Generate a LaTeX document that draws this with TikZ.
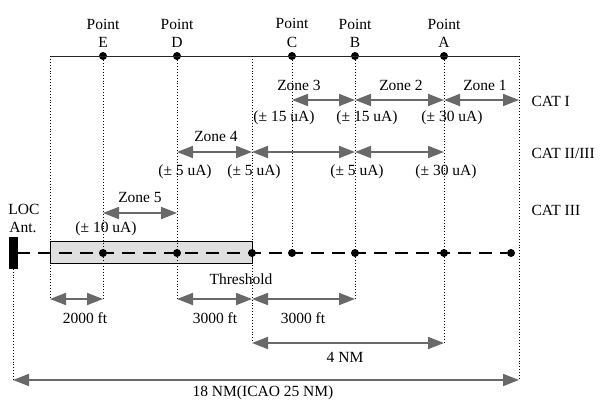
\documentclass[tikz,border=0pt]{standalone}
\usepackage{fontspec}
\setmainfont{Liberation Serif}
\usetikzlibrary{arrows.meta,positioning}
\definecolor{arrowgray}{RGB}{105,105,105}
\begin{document}
\begin{tikzpicture}[x=1pt, y=-1pt, font=\fontsize{15.5}{18.5}\selectfont,
    dot/.style={circle, fill=black, inner sep=0pt, minimum size=8pt},
    guide/.style={dotted, line width=0.9pt},
    span/.style={{Triangle[length=16pt,width=12pt]}-{Triangle[length=16pt,width=12pt]}, draw=arrowgray, fill=arrowgray, line width=1.8pt},
    ptlabel/.style={align=center, inner sep=1pt, above=3pt}]
    \useasboundingbox (0,0) rectangle (600,405);

    % Columns on the top line
    \coordinate (L) at (50,56);
    \node[dot] (E) at (103,56) {};
    \node[dot] (D) at (177,56) {};
    \coordinate (T) at (252,56);
    \node[dot] (C) at (292,56) {};
    \node[dot] (B) at (355,56) {};
    \node[dot] (A) at (444,56) {};
    \coordinate (R) at (519,56);
    \draw[line width=0.9pt, black!85] (L) -- (R);

    \node[ptlabel] at (E.north) {Point\\E};
    \node[ptlabel] at (D.north) {Point\\D};
    \node[ptlabel] at (C.north) {Point\\C};
    \node[ptlabel] at (B.north) {Point\\B};
    \node[ptlabel] at (A.north) {Point\\A};

    % Rows
    \coordinate (rowI) at (0,100);
    \coordinate (rowII) at (0,152);
    \coordinate (rowIII) at (0,213);
    \coordinate (rowft) at (0,299);
    \coordinate (rownm) at (0,343);
    \coordinate (rowall) at (0,380);

    % Runway and antenna
    \draw[fill=gray!25, line width=0.9pt] (L |- 0,241) rectangle (T |- 0,263);
    \node[draw, fill=black, inner sep=0pt, minimum width=8pt, minimum height=31pt] (ant) at (13,253) {};
    \node[dot] (E2) at (103,253) {};
    \node[dot] (D2) at (177,253) {};
    \node[dot] (T2) at (252,253) {};
    \node[dot] (C2) at (292,253) {};
    \node[dot] (B2) at (355,253) {};
    \node[dot] (A2) at (444,253) {};
    \node[dot] (end) at (511,253) {};
    \draw[line width=1.4pt, dash pattern=on 13pt off 8pt] (ant.east) -- (end);
    \node (loc) at (24,209) {LOC};
    \node (antlab) at (23,227) {Ant.};
    \node at (241,279) {Threshold};

    % Guide lines
    \draw[guide] (L) -- (L |- rowft);
    \draw[guide] (E) -- (E |- rowft);
    \draw[guide] (D) -- (D |- rowft);
    \draw[guide] (T) -- (T |- rownm);
    \draw[guide] (C) -- (C2);
    \draw[guide] (B) -- (B |- rowft);
    \draw[guide] (A) -- (A |- rownm);
    \draw[guide] (R) -- (R |- rowall);
    \draw[guide] (ant.south) -- (ant |- rowall);

    % CAT I
    \draw[span] (C |- rowI) -- (B |- rowI);
    \draw[span] (B |- rowI) -- (A |- rowI);
    \draw[span] (A |- rowI) -- (R |- rowI);
    \node at (299,85) {Zone 3};
    \node at (401,85) {Zone 2};
    \node at (485,85) {Zone 1};
    \node at (284,118) {(± 15 uA)};
    \node at (367,118) {(± 15 uA)};
    \node at (452,118) {(± 30 uA)};
    \node[anchor=west] at (528,101) {CAT I};

    % CAT II/III
    \draw[span] (D |- rowII) -- (T |- rowII);
    \draw[span] (T |- rowII) -- (B |- rowII);
    \draw[span] (B |- rowII) -- (A |- rowII);
    \node at (216,136) {Zone 4};
    \node at (185,172) {(± 5 uA)};
    \node at (254,172) {(± 5 uA)};
    \node at (357,172) {(± 5 uA)};
    \node at (446,172) {(± 30 uA)};
    \node[anchor=west] at (528,153) {CAT II/III};

    % CAT III
    \draw[span] (E |- rowIII) -- (D |- rowIII);
    \node at (140,197) {Zone 5};
    \node at (106,229) {(± 10 uA)};
    \node[anchor=west] at (528,210) {CAT III};

    % Distances
    \draw[span] (L |- rowft) -- (E |- rowft);
    \draw[span] (D |- rowft) -- (T |- rowft);
    \draw[span] (T |- rowft) -- (B |- rowft);
    \node at (85,318) {2000 ft};
    \node at (215,318) {3000 ft};
    \node at (303,318) {3000 ft};
    \draw[span] (T |- rownm) -- (A |- rownm);
    \node at (345,357) {4 NM};
    \draw[span] (ant |- rowall) -- (R |- rowall);
    \node at (263,393) {18 NM(ICAO 25 NM)};
\end{tikzpicture}
\end{document}
